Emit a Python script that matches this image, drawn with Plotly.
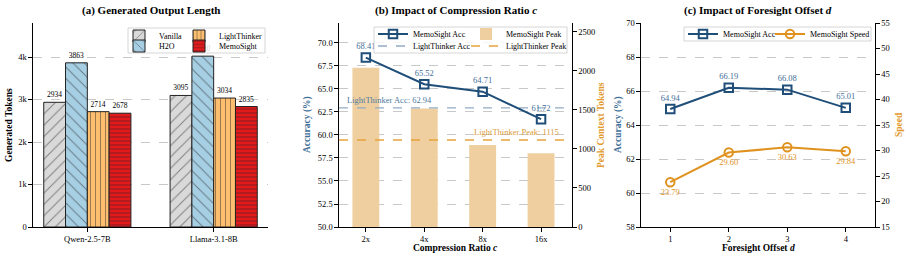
import plotly.graph_objects as go

FONT = "Liberation Serif"
W, H = 909, 260

# ---------------- data ----------------
models = ["Qwen-2.5-7B", "Llama-3.1-8B"]
methods = ["Vanilla", "H2O", "LightThinker", "MemoSight"]
gen_tokens = {
    "Vanilla": [2934, 3095],
    "H2O": [3863, 4020],
    "LightThinker": [2714, 3034],
    "MemoSight": [2678, 2835],
}
gen_ticks = [0, 1000, 2000, 3000, 4000]
gen_ticktext = ["0", "1k", "2k", "3k", "4k"]

ratios = ["2x", "4x", "8x", "16x"]
ratio_acc = [68.41, 65.52, 64.71, 61.72]
ratio_peak = [2040, 1520, 1050, 945]
lt_acc = 62.94
lt_peak = 1115

offsets = [1, 2, 3, 4]
offset_acc = [64.94, 66.19, 66.08, 65.01]
offset_speed = [23.79, 29.60, 30.63, 29.84]

# ---------------- styles ----------------
bar_colors = {"Vanilla": "#d9d9d9", "H2O": "#a6cfe4", "LightThinker": "#fdbf6f", "MemoSight": "#e31a1c"}
bar_hatch = {"Vanilla": ("/", 8, 0.12), "H2O": ("\\", 8, 0.12), "LightThinker": ("|", 5, 0.18), "MemoSight": ("-", 4, 0.25)}
BLUE = "#1f4e79"
BLUE_TXT = "#3f6f98"
ORANGE = "#e0921f"
PEAK_BAR = "#efcf9f"
LT_ACC_COL = "#93abc4"
LT_PEAK_COL = "#e8a33d"

def px_x(p):
    return p / W

def px_y(p):
    return 1 - p / H

YD = [px_y(227), px_y(23)]
XA = [px_x(33), px_x(268)]
XB = [px_x(339), px_x(572)]
XC = [px_x(641), px_x(875)]

def ax(**kw):
    d = dict(showline=True, linecolor="black", linewidth=1.2, ticks="outside", ticklen=3.5,
             tickwidth=1, tickcolor="black", tickfont=dict(size=8.5, color="black", family=FONT),
             zeroline=False, showgrid=False, mirror=False)
    d.update(kw)
    return d

GRID = dict(showgrid=True, gridcolor="#c8c8c8", griddash="dash", gridwidth=0.8)

fig = go.Figure()

# ---------- panel (a) ----------
legend_map_a = {"Vanilla": "legend11", "H2O": "legend2", "LightThinker": "legend3", "MemoSight": "legend4"}
for m in methods:
    shp, sz, sol = bar_hatch[m]
    fig.add_trace(go.Bar(
        x=list(range(len(models))), y=gen_tokens[m], name=m,
        marker=dict(color=bar_colors[m], line=dict(color="#222222", width=1),
                    pattern=dict(shape=shp, size=sz, solidity=sol, fgcolor="#222222", fillmode="overlay")),
        text=[str(v) for v in gen_tokens[m]], textposition="outside", cliponaxis=False,
        textfont=dict(size=7.5, color="black", family=FONT),
        xaxis="x", yaxis="y", legend=legend_map_a[m], showlegend=True,
    ))

# ---------- panel (b) ----------
xb = list(range(len(ratios)))
xb_range = [-0.46, 3.53]
fig.add_trace(go.Bar(x=xb, y=ratio_peak, name="MemoSight Peak", width=0.46,
                     marker=dict(color=PEAK_BAR, line=dict(width=0)),
                     xaxis="x2", yaxis="y2", legend="legend6"))
fig.add_trace(go.Scatter(x=xb_range, y=[lt_peak, lt_peak], mode="lines", name="LightThinker Peak",
                         line=dict(color=LT_PEAK_COL, dash="dash", width=1.5),
                         xaxis="x2", yaxis="y2", legend="legend8"))
fig.add_trace(go.Scatter(x=xb_range, y=[lt_acc, lt_acc], mode="lines", name="LightThinker Acc",
                         line=dict(color=LT_ACC_COL, dash="dash", width=1.3),
                         xaxis="x2", yaxis="y3", legend="legend7"))
fig.add_trace(go.Scatter(x=xb, y=ratio_acc, mode="lines+markers+text", name="MemoSight Acc",
                         line=dict(color=BLUE, width=2),
                         marker=dict(symbol="square-open", size=8.5, color=BLUE, line=dict(width=2)),
                         text=[f"{v:.2f}" for v in ratio_acc], textposition="top center",
                         textfont=dict(size=8.5, color=BLUE_TXT, family=FONT), cliponaxis=False,
                         xaxis="x2", yaxis="y3", legend="legend5"))

# ---------- panel (c) ----------
fig.add_trace(go.Scatter(x=offsets, y=offset_acc, mode="lines+markers+text", name="MemoSight Acc",
                         line=dict(color=BLUE, width=2),
                         marker=dict(symbol="square-open", size=8.5, color=BLUE, line=dict(width=2)),
                         text=[f"{v:.2f}" for v in offset_acc], textposition="top center",
                         textfont=dict(size=8.5, color=BLUE_TXT, family=FONT), cliponaxis=False,
                         xaxis="x3", yaxis="y4", legend="legend9"))
fig.add_trace(go.Scatter(x=offsets, y=offset_speed, mode="lines+markers+text", name="MemoSight Speed",
                         line=dict(color=ORANGE, width=2),
                         marker=dict(symbol="circle-open", size=8.5, color=ORANGE, line=dict(width=2)),
                         text=[f"{v:.2f}" for v in offset_speed], textposition="bottom center",
                         textfont=dict(size=8.5, color=ORANGE, family=FONT), cliponaxis=False,
                         xaxis="x3", yaxis="y5", legend="legend10"))

# ---------- layout ----------
layout = dict(
    width=W, height=H, margin=dict(l=0, r=0, t=0, b=0),
    template="none", paper_bgcolor="white", plot_bgcolor="rgba(0,0,0,0)",
    font=dict(family=FONT, size=8, color="black"),
    showlegend=True,
    barmode="group", bargap=0.31, bargroupgap=0,
    xaxis=ax(domain=XA, anchor="y", range=[-0.43, 1.43], tickvals=list(range(len(models))), ticktext=models),
    yaxis=ax(domain=YD, anchor="x", range=[0, 4800], tickvals=gen_ticks, ticktext=gen_ticktext, **GRID),
    xaxis2=ax(domain=XB, anchor="y2", range=xb_range, tickvals=xb, ticktext=ratios),
    yaxis2=ax(domain=YD, anchor="x2", side="right", range=[0, 2615], tickvals=[0, 500, 1000, 1500, 2000, 2500]),
    yaxis3=ax(domain=YD, anchor="x2", overlaying="y2", side="left", range=[50, 72.17],
              tickvals=[50, 52.5, 55, 57.5, 60, 62.5, 65, 67.5, 70], tickformat=".1f", **GRID),
    xaxis3=ax(domain=XC, anchor="y4", range=[0.5, 4.5], tickvals=offsets),
    yaxis4=ax(domain=YD, anchor="x3", range=[58, 70], tickvals=[58, 60, 62, 64, 66, 68, 70], **GRID),
    yaxis5=ax(domain=YD, anchor="x3", overlaying="y4", side="right", range=[15, 55],
              tickvals=[15, 20, 25, 30, 35, 40, 45, 50, 55]),
)

# legends: one per entry, positioned in pixels
leg_pos = {
    "legend11": (119, 36), "legend2": (119, 46), "legend3": (179, 36), "legend4": (179, 46),
    "legend5": (373, 34), "legend7": (373, 46), "legend6": (466, 34), "legend8": (466, 46),
    "legend9": (683, 34), "legend10": (770, 34),
}
for k, (lx, ly) in leg_pos.items():
    layout[k] = dict(x=px_x(lx), y=px_y(ly), xanchor="left", yanchor="middle",
                     bgcolor="rgba(0,0,0,0)", borderwidth=0, visible=True,
                     font=dict(size=8, family=FONT, color="black"))

fig.update_layout(**layout)

# legend boxes
for (x0, y0, x1, y1) in [(128, 28, 265, 53), (374, 27, 567, 53), (684, 27, 871, 41)]:
    fig.add_shape(type="rect", xref="paper", yref="paper",
                  x0=px_x(x0), x1=px_x(x1), y0=px_y(y1), y1=px_y(y0),
                  line=dict(color="#cccccc", width=0.8), fillcolor="rgba(255,255,255,0.82)", layer="above")

# titles
titles = [
    ("<b>(a) Generated Output Length</b>", 150.5),
    ("<b>(b) Impact of Compression Ratio <i>c</i></b>", 455.5),
    ("<b>(c) Impact of Foresight Offset <i>d</i></b>", 758),
]
for t, cx in titles:
    fig.add_annotation(text=t, x=px_x(cx), y=px_y(11), xref="paper", yref="paper",
                       showarrow=False, xanchor="center", yanchor="middle",
                       font=dict(size=11, family=FONT, color="black"))

# axis titles
axis_titles = [
    ("<b>Generated Tokens</b>", 9, 125, -90, "black"),
    ("<b>Accuracy (%)</b>", 307, 125, -90, BLUE_TXT),
    ("<b>Peak Context Tokens</b>", 601, 125, -90, "#e39a2d"),
    ("<b>Accuracy (%)</b>", 618, 125, -90, BLUE_TXT),
    ("<b>Speed</b>", 899, 125, -90, "#e39a2d"),
    ("<b>Compression Ratio <i>c</i></b>", 455.5, 248, 0, "black"),
    ("<b>Foresight Offset <i>d</i></b>", 758, 248, 0, "black"),
]
for t, cx, cy, ang, col in axis_titles:
    fig.add_annotation(text=t, x=px_x(cx), y=px_y(cy), xref="paper", yref="paper",
                       showarrow=False, xanchor="center", yanchor="middle", textangle=ang,
                       font=dict(size=9.5, family=FONT, color=col))

# reference-line labels
fig.add_annotation(text=f"LightThinker Acc: {lt_acc:.2f}", x=-0.36, y=lt_acc, xref="x2", yref="y3",
                   showarrow=False, xanchor="left", yanchor="bottom", yshift=1,
                   font=dict(size=8.5, family=FONT, color="#4d7aa0"))
fig.add_annotation(text=f"LightThinker Peak: {lt_peak}", x=3.35, y=lt_peak, xref="x2", yref="y2",
                   showarrow=False, xanchor="right", yanchor="bottom", yshift=1,
                   font=dict(size=8.5, family=FONT, color="#d99a3a"))

fig.write_html("out.html")
